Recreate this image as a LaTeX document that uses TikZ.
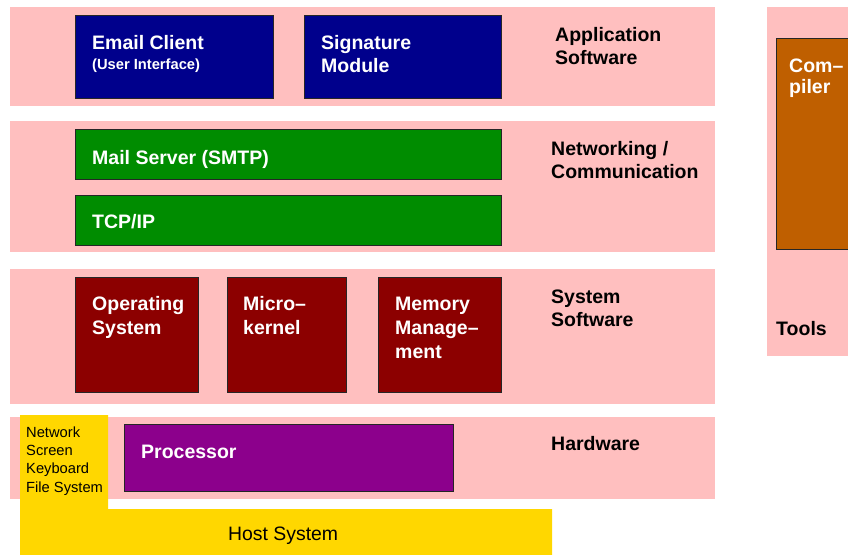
\documentclass[tikz,border=0pt]{standalone}
\usepackage{fontspec}
\setmainfont{Liberation Sans}
\definecolor{bandpink}{RGB}{255,191,191}
\definecolor{appblue}{RGB}{0,0,140}
\definecolor{netgreen}{RGB}{0,140,0}
\definecolor{sysred}{RGB}{140,0,0}
\definecolor{hwpurple}{RGB}{140,0,140}
\definecolor{toolorange}{RGB}{191,95,0}
\definecolor{hostyellow}{RGB}{255,215,0}
\tikzset{
  band/.style={fill=bandpink, draw=none},
  compbox/.style={draw=black!85, line width=1.4pt, inner sep=0pt, anchor=north west},
  wtxt/.style={text=white, font=\fontsize{19.5}{23.7}\selectfont\bfseries, anchor=base west, inner sep=0pt, align=left},
  wsmall/.style={text=white, font=\fontsize{14.7}{18}\selectfont\bfseries, anchor=base west, inner sep=0pt},
  ktxt/.style={text=black, font=\fontsize{19.5}{23}\selectfont\bfseries, anchor=base west, inner sep=0pt, align=left},
  ysmall/.style={text=black, font=\fontsize{14.7}{18.3}\selectfont, anchor=base west, inner sep=0pt, align=left},
  ybig/.style={text=black, font=\fontsize{19.4}{23}\selectfont, anchor=base west, inner sep=0pt},
}
\begin{document}
\begin{tikzpicture}[x=1pt,y=-1pt]
\useasboundingbox (0,0) rectangle (848,554);
% bands
\fill[band] (10,7) rectangle (715,106);
\fill[band] (10,121) rectangle (715,252);
\fill[band] (10,269) rectangle (715,404);
\fill[band] (10,417) rectangle (715,499);
\fill[band] (767,7) rectangle (870,356);
% host system
\fill[hostyellow] (20,415) -- (108,415) -- (108,509) -- (552,509) -- (552,560) -- (20,560) -- cycle;
% application layer
\node[compbox, fill=appblue, minimum width=198, minimum height=83] (email) at (75,15) {};
\node[compbox, fill=appblue, minimum width=197, minimum height=83] (sig) at (304,15) {};
\node[wtxt] (emailt) at (92,49) {Email Client};
\node[wsmall] (emailu) at (92,69) {(User Interface)};
\node[wtxt, font=\fontsize{19.5}{23}\selectfont\bfseries] (sigt) at (321,72) {Signature\\Module};
\node[ktxt] (appl) at (555,64) {Application\\Software};
% networking
\node[compbox, fill=netgreen, minimum width=426, minimum height=50] (mail) at (75,129) {};
\node[compbox, fill=netgreen, minimum width=426, minimum height=50] (tcp) at (75,195) {};
\node[wtxt] (mailt) at (92,164) {Mail Server (SMTP)};
\node[wtxt] (tcpt) at (92,228) {TCP/IP};
\node[ktxt] (netl) at (551,178) {Networking /\\Communication};
% system software
\node[compbox, fill=sysred, minimum width=123, minimum height=115] (os) at (75,277) {};
\node[compbox, fill=sysred, minimum width=119, minimum height=115] (mk) at (227,277) {};
\node[compbox, fill=sysred, minimum width=123, minimum height=115] (mm) at (378,277) {};
\node[wtxt] (ost) at (92,334) {Operating\\System};
\node[wtxt] (mkt) at (243,334) {Micro–\\kernel};
\node[wtxt] (mmt) at (395,358) {Memory\\Manage–\\ment};
\node[ktxt] (sysl) at (551,326) {System\\Software};
% hardware
\node[compbox, fill=hwpurple, minimum width=329, minimum height=67] (proc) at (124,424) {};
\node[wtxt] (proct) at (141,458) {Processor};
\node[ktxt] (hwl) at (551,450) {Hardware};
\node[ysmall] (dev) at (26,492) {Network\\Screen\\Keyboard\\File System};
\node[ybig] (host) at (228,540) {Host System};
% tools
\node[compbox, fill=toolorange, minimum width=100, minimum height=211] (comp) at (776,38) {};
\node[wtxt, font=\fontsize{19.5}{20.5}\selectfont\bfseries] (compt) at (789,93) {Com–\\piler};
\node[ktxt] (tooll) at (776,335) {Tools};
\end{tikzpicture}
\end{document}
